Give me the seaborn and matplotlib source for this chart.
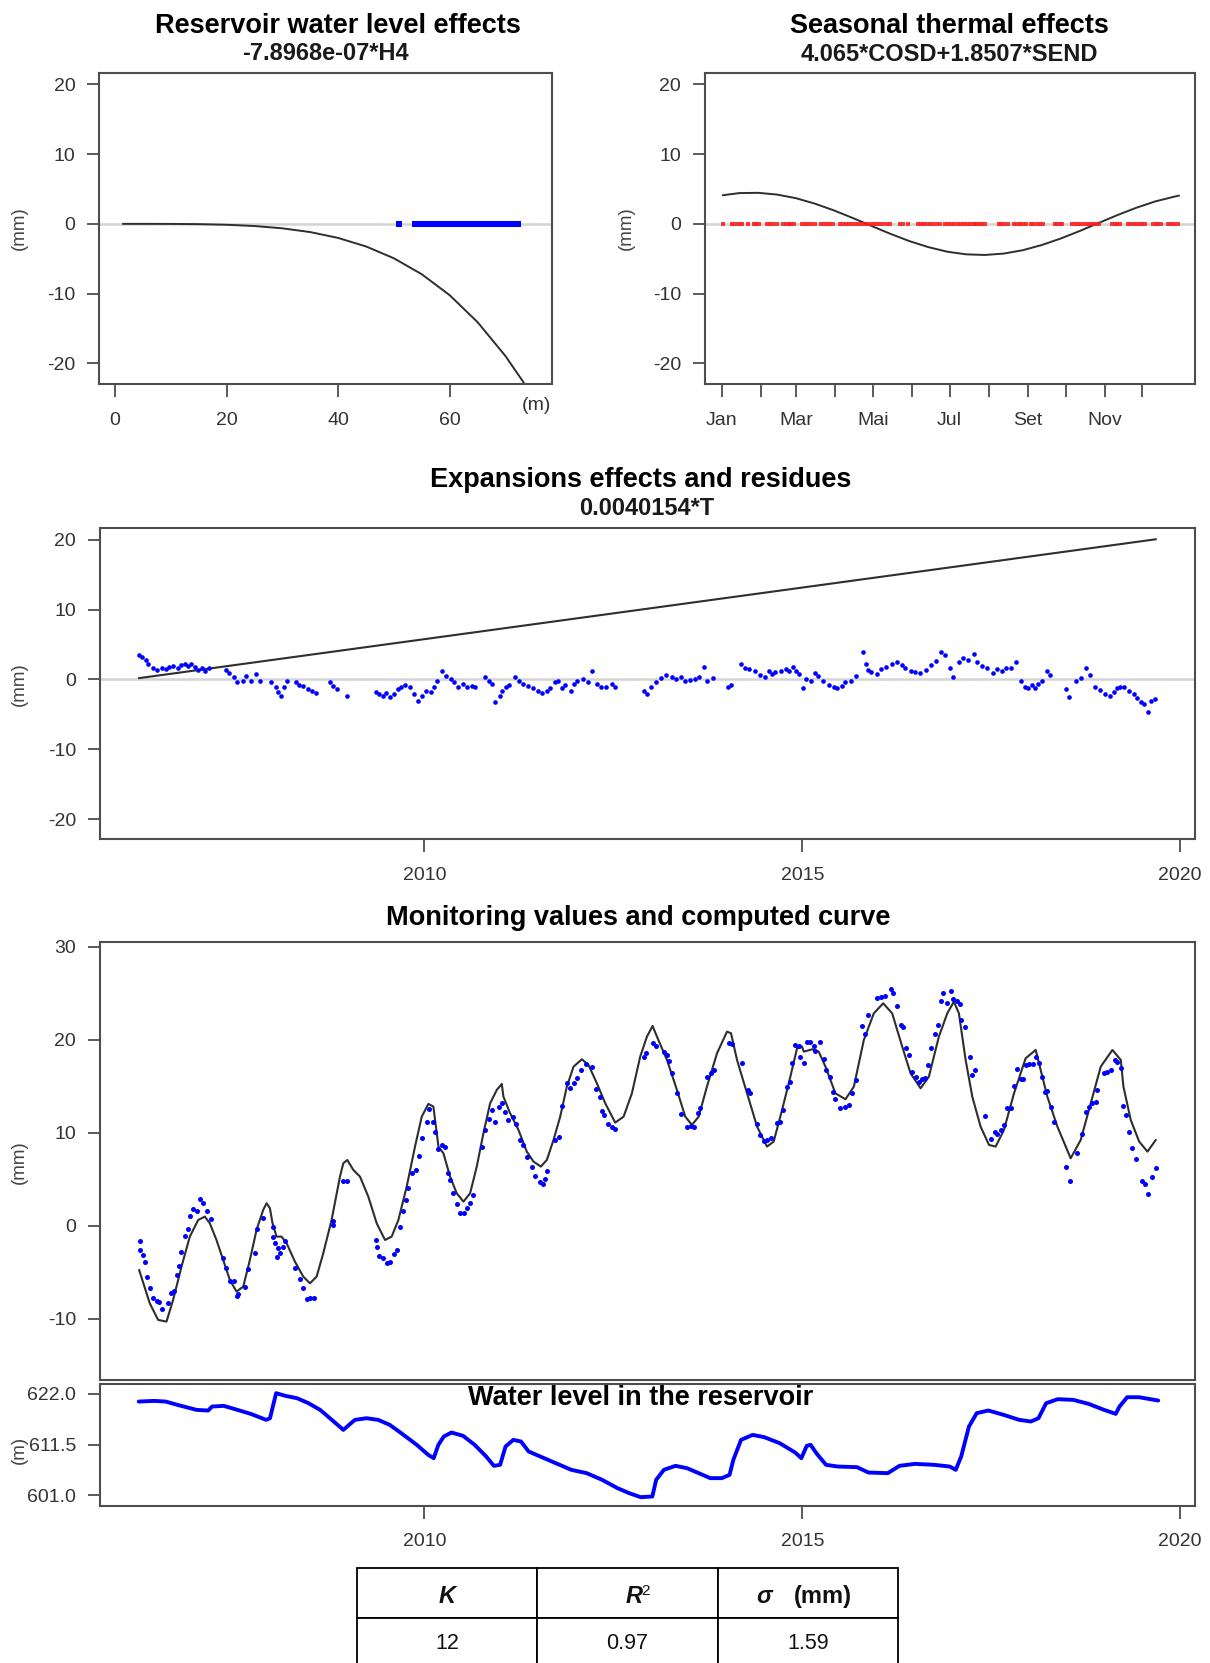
import numpy as np
import pandas as pd
import matplotlib
matplotlib.use("Agg")
import matplotlib.pyplot as plt
import seaborn as sns

sns.set_theme(style="ticks")
plt.rcParams['font.family'] = ['Liberation Sans', 'DejaVu Sans']
plt.rcParams['axes.unicode_minus'] = False

# ---------------- DATA ----------------
# Panel 1: reservoir water level effect curve (H in m, effect in mm)
h_curve = [1.4, 5, 10, 15, 20, 25, 30, 35, 40, 45, 50, 55, 60, 65, 70, 73.3]
h_effect = [0.0, 0.0, -0.01, -0.04, -0.13, -0.31, -0.64, -1.18, -2.02, -3.24,
            -4.94, -7.23, -10.23, -14.1, -18.96, -22.8]
h_obs = [50.9, 53.7, 54.1, 54.5, 54.9, 55.3, 55.7, 56.1, 56.5, 56.9, 57.3, 57.7,
         58.1, 58.5, 58.9, 59.3, 59.7, 60.1, 60.5, 60.9, 61.3, 61.7, 62.1, 62.5,
         62.9, 63.3, 63.7, 64.1, 64.5, 64.7, 65.4, 65.8, 66.2, 66.6, 67.0, 67.4,
         67.8, 68.2, 68.6, 69.0, 69.4, 69.8, 70.2, 70.6, 71.0, 71.4, 71.8, 72.2]

# Panel 2: seasonal thermal effect (day of year, mm)
season_day = [2, 15, 30, 45, 60, 75, 90, 105, 120, 135, 150, 165, 180, 195, 210,
              225, 240, 255, 270, 285, 300, 315, 330, 345, 360, 364]
season_eff = [4.10, 4.41, 4.45, 4.20, 3.68, 2.90, 1.94, 0.85, -0.30, -1.43, -2.47,
              -3.33, -3.99, -4.37, -4.46, -4.26, -3.78, -3.04, -2.11, -1.04, 0.11,
              1.25, 2.30, 3.21, 3.89, 4.05]
obs_day = [2, 9.6, 12, 14.5, 17.2, 21.8, 26.4, 28.5, 31, 37, 39.5, 42, 44.8, 49.4,
           52, 54.5, 56.5, 58.6, 64.7, 67, 69.5, 72, 75.4, 80, 82.5, 85, 87, 89.2,
           95.3, 97.5, 100, 102, 104.5, 107.5, 110, 112.5, 114.5, 116.7, 119.8, 122,
           124.5, 127, 129.5, 132, 135, 142.7, 145, 148.9, 156.5, 159, 161.5, 164,
           166.5, 168.8, 171.8, 174.5, 178, 181, 183, 185.6, 188.7, 191, 193.5, 196,
           198.5, 200.5, 202.4, 204, 206, 208, 210, 220.8, 223, 225.5, 228.5, 233,
           235.5, 238, 240, 242.2, 246.8, 248.4, 251.4, 253.5, 256, 265.2, 267.5,
           269.5, 271.3, 279, 281.5, 284, 286.5, 289, 291.5, 294.3, 295.8, 298, 300.4,
           311, 313, 315, 317.2, 323.4, 325.5, 328, 330.5, 333, 335, 337.1, 343.2,
           345.5, 347.5, 349.4, 355.5, 357.5, 360, 363]
month_days = [1, 32, 60, 91, 121, 152, 182, 213, 244, 274, 305, 335]
month_labels = ['Jan', '', 'Mar', '', 'Mai', '', 'Jul', '', 'Set', '', 'Nov', '']

# Panel 3: time effect (trend) and residuals
trend_year = [2006.22, 2019.68]
trend_mm = [0.19, 20.1]
res_year = [2006.221, 2006.257, 2006.311, 2006.348, 2006.402, 2006.465, 2006.528, 2006.583,
            2006.619, 2006.673, 2006.736, 2006.781, 2006.827, 2006.872, 2006.917, 2006.962,
            2007.007, 2007.053, 2007.098, 2007.143, 2007.369, 2007.414, 2007.486, 2007.523,
            2007.595, 2007.640, 2007.703, 2007.776, 2007.821, 2007.975, 2008.029, 2008.065,
            2008.101, 2008.137, 2008.182, 2008.300, 2008.336, 2008.390, 2008.454, 2008.517,
            2008.571, 2008.752, 2008.788, 2008.842, 2008.969, 2009.357, 2009.403, 2009.448,
            2009.493, 2009.538, 2009.601, 2009.656, 2009.692, 2009.746, 2009.809, 2009.855,
            2009.909, 2009.963, 2010.017, 2010.080, 2010.126, 2010.171, 2010.234, 2010.288,
            2010.352, 2010.397, 2010.442, 2010.505, 2010.559, 2010.623, 2010.668, 2010.803,
            2010.849, 2010.894, 2010.939, 2010.993, 2011.029, 2011.075, 2011.120, 2011.192,
            2011.255, 2011.301, 2011.373, 2011.436, 2011.499, 2011.554, 2011.617, 2011.662,
            2011.725, 2011.770, 2011.825, 2011.861, 2011.933, 2011.978, 2012.024, 2012.096,
            2012.159, 2012.222, 2012.277, 2012.340, 2012.403, 2012.476, 2012.521, 2012.909,
            2012.946, 2013.000, 2013.063, 2013.126, 2013.199, 2013.271, 2013.334, 2013.398,
            2013.452, 2013.515, 2013.578, 2013.632, 2013.696, 2013.741, 2013.813, 2014.012,
            2014.057, 2014.193, 2014.238, 2014.301, 2014.374, 2014.446, 2014.509, 2014.554,
            2014.600, 2014.645, 2014.717, 2014.780, 2014.825, 2014.871, 2014.916, 2014.961,
            2015.006, 2015.051, 2015.115, 2015.169, 2015.205, 2015.277, 2015.350, 2015.413,
            2015.458, 2015.530, 2015.566, 2015.639, 2015.711, 2015.801, 2015.837, 2015.865,
            2015.910, 2015.982, 2016.045, 2016.109, 2016.181, 2016.253, 2016.317, 2016.362,
            2016.434, 2016.497, 2016.561, 2016.633, 2016.705, 2016.768, 2016.832, 2016.886,
            2016.949, 2016.994, 2017.067, 2017.130, 2017.193, 2017.266, 2017.311, 2017.374,
            2017.446, 2017.518, 2017.582, 2017.645, 2017.699, 2017.763, 2017.826, 2017.898,
            2017.943, 2017.989, 2018.034, 2018.079, 2018.124, 2018.170, 2018.242, 2018.278,
            2018.486, 2018.531, 2018.622, 2018.694, 2018.757, 2018.802, 2018.875, 2018.938,
            2019.001, 2019.074, 2019.119, 2019.164, 2019.209, 2019.254, 2019.327, 2019.390,
            2019.435, 2019.480, 2019.525, 2019.571, 2019.616, 2019.661]
res_mm = [3.53, 3.25, 2.77, 2.20, 1.63, 1.34, 1.63, 1.48, 1.82, 1.96, 1.63, 2.10, 2.29, 1.96,
          2.20, 1.82, 1.34, 1.63, 1.15, 1.63, 1.34, 0.86, 0.29, -0.42, -0.19, 0.53, -0.19,
          0.77, -0.19, -0.42, -1.04, -1.86, -2.33, -1.14, -0.19, -0.42, -0.76, -0.90, -1.38,
          -1.71, -2.00, -0.42, -0.90, -1.38, -2.33, -1.86, -2.09, -2.33, -2.00, -2.57, -2.09,
          -1.38, -1.04, -0.76, -1.04, -2.09, -3.14, -2.33, -1.62, -1.86, -1.14, -0.19, 1.15,
          0.53, 0.05, -0.42, -1.04, -0.66, -1.14, -0.90, -1.14, 0.29, -0.19, -0.66, -3.29,
          -2.33, -1.62, -1.04, -0.76, 0.29, -0.19, -0.66, -0.90, -1.24, -1.62, -2.00, -1.71,
          -1.24, -0.42, -0.19, -1.24, -0.76, -1.62, -0.66, -0.19, 0.05, -0.42, 1.15, -0.66,
          -1.04, -1.14, -0.66, -1.04, -1.62, -2.09, -1.14, -0.42, 0.20, 0.67, 0.29, 0.05,
          0.29, -0.28, -0.09, 0.05, 0.29, 1.82, -0.19, 0.20, -1.14, -0.76, 2.20, 1.63, 1.48,
          1.15, 0.67, 0.29, 1.24, 0.77, 1.01, 1.24, 1.48, 1.15, 1.82, 1.15, 0.77, -1.24,
          0.05, -0.19, 0.86, 0.53, -0.19, -0.76, -1.04, -1.24, -0.90, -0.42, -0.19, 0.53,
          3.87, 2.20, 1.34, 1.01, 0.77, 1.48, 1.82, 2.29, 2.44, 2.10, 1.63, 1.24, 1.01, 0.86,
          1.34, 2.10, 2.68, 3.87, 3.53, 1.63, 0.39, 2.44, 3.06, 2.77, 3.72, 2.44, 1.96, 1.63,
          0.86, 1.48, 1.24, 1.63, 1.63, 2.44, -0.19, -1.04, -1.24, -0.76, -1.24, -0.66,
          -0.19, 1.24, 0.67, -1.38, -2.47, -0.19, 0.20, 1.63, 0.67, -1.04, -1.52, -2.09,
          -2.33, -1.86, -1.24, -1.04, -1.14, -1.71, -2.09, -2.67, -3.29, -3.52, -4.72,
          -3.14, -2.81]

# Panel 4: monitoring values and computed curve
obs_year = [2006.233, 2006.242, 2006.277, 2006.299, 2006.330, 2006.365, 2006.410, 2006.462,
            2006.489, 2006.529, 2006.600, 2006.652, 2006.688, 2006.719, 2006.754, 2006.785,
            2006.829, 2006.873, 2006.904, 2006.939, 2006.992, 2007.028, 2007.072, 2007.125,
            2007.169, 2007.337, 2007.372, 2007.425, 2007.478, 2007.513, 2007.535, 2007.624,
            2007.659, 2007.756, 2007.787, 2007.858, 2007.990, 2007.999, 2008.021, 2008.043,
            2008.065, 2008.087, 2008.122, 2008.153, 2008.286, 2008.352, 2008.387, 2008.440,
            2008.485, 2008.538, 2008.785, 2008.794, 2008.926, 2008.970, 2009.359, 2009.377,
            2009.403, 2009.456, 2009.500, 2009.544, 2009.597, 2009.633, 2009.677, 2009.721,
            2009.756, 2009.787, 2009.831, 2009.888, 2009.932, 2009.964, 2010.030, 2010.065,
            2010.118, 2010.140, 2010.185, 2010.229, 2010.273, 2010.317, 2010.339, 2010.383,
            2010.427, 2010.471, 2010.524, 2010.559, 2010.604, 2010.648, 2010.758, 2010.803,
            2010.860, 2010.891, 2010.935, 2010.992, 2011.023, 2011.067, 2011.112, 2011.178,
            2011.213, 2011.266, 2011.310, 2011.354, 2011.420, 2011.465, 2011.531, 2011.566,
            2011.597, 2011.628, 2011.730, 2011.774, 2011.818, 2011.884, 2011.928, 2011.973,
            2012.025, 2012.069, 2012.136, 2012.215, 2012.273, 2012.317, 2012.348, 2012.379,
            2012.423, 2012.480, 2012.524, 2012.900, 2012.935, 2013.023, 2013.067, 2013.164,
            2013.209, 2013.240, 2013.275, 2013.341, 2013.398, 2013.473, 2013.527, 2013.562,
            2013.615, 2013.650, 2013.738, 2013.791, 2013.827, 2014.025, 2014.069, 2014.202,
            2014.281, 2014.312, 2014.400, 2014.436, 2014.488, 2014.533, 2014.586, 2014.665,
            2014.710, 2014.745, 2014.798, 2014.833, 2014.864, 2014.908, 2014.953, 2014.975,
            2015.019, 2015.063, 2015.107, 2015.151, 2015.173, 2015.230, 2015.284, 2015.319,
            2015.363, 2015.407, 2015.438, 2015.505, 2015.571, 2015.615, 2015.659, 2015.704,
            2015.792, 2015.823, 2015.867, 2015.991, 2016.035, 2016.088, 2016.167, 2016.203,
            2016.247, 2016.300, 2016.335, 2016.366, 2016.410, 2016.454, 2016.499, 2016.543,
            2016.587, 2016.618, 2016.662, 2016.706, 2016.750, 2016.794, 2016.838, 2016.865,
            2016.909, 2016.962, 2016.997, 2017.042, 2017.086, 2017.103, 2017.147, 2017.218,
            2017.249, 2017.284, 2017.412, 2017.501, 2017.545, 2017.580, 2017.633, 2017.668,
            2017.713, 2017.757, 2017.801, 2017.845, 2017.889, 2017.924, 2017.955, 2017.999,
            2018.057, 2018.088, 2018.132, 2018.176, 2018.207, 2018.242, 2018.286, 2018.330,
            2018.494, 2018.543, 2018.640, 2018.706, 2018.750, 2018.794, 2018.838, 2018.882,
            2018.905, 2018.993, 2019.037, 2019.081, 2019.134, 2019.161, 2019.214, 2019.249,
            2019.280, 2019.324, 2019.368, 2019.412, 2019.501, 2019.532, 2019.576, 2019.633,
            2019.677]
obs_mm = [-1.61, -2.61, -3.15, -3.87, -5.48, -6.73, -7.81, -8.06, -8.17, -8.99, -8.27, -7.27,
          -7.02, -5.30, -4.33, -2.79, -1.11, -0.39, 1.04, 1.76, 1.61, 2.83, 2.41, 1.61, 0.68,
          -3.44, -4.58, -5.91, -5.91, -7.56, -7.38, -6.63, -4.69, -2.90, -0.39, 0.79, -0.11,
          -1.18, -1.90, -3.33, -2.36, -2.97, -2.25, -1.65, -4.58, -5.77, -6.66, -7.92, -7.81,
          -7.74, 0.07, 0.50, 4.84, 4.84, -1.54, -2.25, -3.26, -3.51, -3.97, -3.87, -3.04,
          -2.61, -0.11, 1.58, 2.76, 4.02, 5.63, 5.99, 7.50, 9.39, 11.11, 12.55, 11.19, 10.11,
          8.21, 8.68, 8.50, 5.63, 4.91, 3.48, 2.33, 1.40, 1.40, 1.87, 2.48, 3.30, 8.43, 10.29,
          11.44, 12.44, 11.11, 12.80, 13.16, 12.19, 11.37, 11.72, 10.94, 9.22, 8.68, 7.42,
          6.35, 5.35, 4.73, 4.45, 4.99, 5.88, 9.22, 9.57, 12.91, 15.31, 14.77, 15.38, 15.85,
          16.74, 17.35, 17.10, 14.66, 13.87, 12.37, 11.90, 10.90, 10.65, 10.36, 18.18, 18.61,
          19.61, 19.32, 18.71, 18.36, 17.75, 16.38, 14.23, 12.01, 10.65, 10.72, 10.65, 12.08,
          12.62, 15.95, 16.38, 16.74, 19.61, 19.54, 17.53, 14.59, 14.23, 10.90, 9.75, 9.11,
          9.22, 9.47, 11.01, 11.19, 12.44, 14.95, 15.49, 17.53, 19.43, 19.32, 18.18, 17.53,
          19.79, 19.79, 19.32, 18.82, 19.79, 17.89, 16.74, 16.03, 14.41, 13.59, 12.62, 12.80,
          12.98, 14.30, 15.67, 21.47, 20.61, 22.66, 24.45, 24.63, 24.70, 25.42, 24.99, 23.62,
          21.58, 21.40, 19.07, 18.36, 16.56, 16.03, 15.49, 15.74, 15.85, 17.28, 19.07, 20.61,
          21.58, 24.20, 25.06, 23.91, 25.27, 24.34, 24.20, 23.84, 22.12, 21.33, 18.18, 16.21,
          16.74, 11.80, 9.29, 10.11, 9.86, 10.29, 10.83, 12.62, 12.62, 15.02, 16.81, 15.74,
          15.74, 17.28, 17.39, 17.39, 18.18, 17.46, 16.03, 14.41, 14.52, 12.80, 11.19, 6.35,
          4.81, 7.78, 9.86, 12.26, 12.80, 13.16, 13.34, 14.59, 16.46, 16.53, 16.74, 17.82,
          17.64, 16.92, 12.87, 11.90, 10.11, 8.32, 7.13, 4.84, 4.49, 3.41, 5.27, 6.24]
calc_year = [2006.224, 2006.365, 2006.476, 2006.586, 2006.674, 2006.785, 2006.895, 2007.006,
             2007.094, 2007.160, 2007.248, 2007.337, 2007.425, 2007.513, 2007.602, 2007.690,
             2007.778, 2007.866, 2007.911, 2007.955, 2007.990, 2008.043, 2008.109, 2008.176,
             2008.286, 2008.396, 2008.485, 2008.573, 2008.661, 2008.771, 2008.882, 2008.926,
             2008.979, 2009.059, 2009.147, 2009.257, 2009.368, 2009.478, 2009.566, 2009.655,
             2009.765, 2009.875, 2009.964, 2010.052, 2010.118, 2010.185, 2010.251, 2010.339,
             2010.427, 2010.516, 2010.604, 2010.692, 2010.780, 2010.869, 2010.957, 2011.023,
             2011.045, 2011.134, 2011.244, 2011.354, 2011.443, 2011.540, 2011.619, 2011.708,
             2011.796, 2011.884, 2011.973, 2012.083, 2012.171, 2012.281, 2012.392, 2012.524,
             2012.635, 2012.745, 2012.855, 2012.944, 2013.019, 2013.076, 2013.209, 2013.341,
             2013.451, 2013.540, 2013.628, 2013.738, 2013.871, 2014.003, 2014.056, 2014.136,
             2014.268, 2014.401, 2014.533, 2014.621, 2014.732, 2014.842, 2014.930, 2014.997,
             2015.019, 2015.129, 2015.217, 2015.306, 2015.438, 2015.571, 2015.682, 2015.814,
             2015.946, 2016.070, 2016.189, 2016.322, 2016.432, 2016.565, 2016.675, 2016.807,
             2016.918, 2017.006, 2017.072, 2017.161, 2017.249, 2017.359, 2017.470, 2017.558,
             2017.668, 2017.801, 2017.955, 2018.088, 2018.154, 2018.242, 2018.375, 2018.551,
             2018.684, 2018.816, 2018.949, 2019.103, 2019.214, 2019.249, 2019.346, 2019.457,
             2019.567, 2019.677]
calc_mm = [-4.76, -8.35, -10.14, -10.32, -7.99, -4.41, -1.18, 0.61, 0.97, 0.25, -1.54, -3.69,
           -5.84, -7.09, -6.56, -3.69, -0.46, 1.69, 2.41, 1.87, 0.25, -1.18, -1.18, -1.90,
           -3.87, -5.48, -6.20, -5.48, -2.97, 0.61, 5.27, 6.71, 7.06, 5.99, 5.27, 3.12, 0.25,
           -1.54, -1.18, 0.61, 4.20, 8.50, 11.72, 13.09, 12.80, 8.50, 7.78, 5.27, 3.48, 2.58,
           3.48, 6.35, 9.93, 13.16, 14.59, 15.24, 13.87, 12.08, 10.29, 7.96, 6.89, 6.35, 7.06,
           9.22, 11.72, 14.95, 17.10, 17.89, 17.28, 15.31, 13.16, 11.08, 11.72, 14.23, 18.18,
           20.33, 21.47, 20.33, 17.82, 14.59, 11.72, 10.83, 11.72, 14.95, 18.53, 20.86, 20.69,
           17.82, 14.23, 10.65, 8.50, 9.04, 12.44, 16.03, 19.07, 19.25, 18.71, 18.96, 18.71,
           17.10, 14.23, 13.59, 14.95, 19.97, 22.83, 23.91, 22.83, 19.25, 16.38, 14.77, 16.03,
           20.33, 22.83, 24.09, 22.83, 17.82, 13.87, 10.65, 8.68, 8.50, 10.29, 14.23, 18.00,
           18.89, 16.74, 13.87, 10.65, 7.24, 9.22, 13.16, 17.10, 18.89, 17.82, 14.95, 11.36,
           9.04, 7.96, 9.22]

# Panel 5: water level in the reservoir (m)
wl_year = [2006.219, 2006.423, 2006.576, 2006.730, 2006.985, 2007.138, 2007.189, 2007.343,
           2007.495, 2007.701, 2007.905, 2007.956, 2008.037, 2008.160, 2008.314, 2008.466,
           2008.620, 2008.774, 2008.927, 2008.977, 2009.079, 2009.233, 2009.387, 2009.540,
           2009.693, 2009.898, 2010.050, 2010.122, 2010.184, 2010.256, 2010.358, 2010.511,
           2010.664, 2010.817, 2010.919, 2011.001, 2011.073, 2011.175, 2011.277, 2011.379,
           2011.532, 2011.738, 2011.942, 2012.146, 2012.351, 2012.555, 2012.709, 2012.861,
           2013.015, 2013.066, 2013.168, 2013.322, 2013.474, 2013.628, 2013.781, 2013.935,
           2014.037, 2014.087, 2014.189, 2014.343, 2014.497, 2014.701, 2014.906, 2014.987,
           2015.058, 2015.110, 2015.192, 2015.314, 2015.468, 2015.723, 2015.875, 2016.131,
           2016.285, 2016.490, 2016.744, 2016.950, 2017.030, 2017.102, 2017.205, 2017.307,
           2017.461, 2017.665, 2017.869, 2018.023, 2018.125, 2018.226, 2018.380, 2018.584,
           2018.789, 2018.993, 2019.147, 2019.197, 2019.299, 2019.453, 2019.607, 2019.709]
wl_m = [620.37, 620.51, 620.37, 619.69, 618.65, 618.52, 619.34, 619.48, 618.79, 617.83,
        616.59, 616.93, 622.10, 621.55, 621.06, 620.03, 618.65, 616.59, 614.52, 615.21,
        616.59, 616.93, 616.59, 615.56, 613.84, 611.43, 609.36, 608.67, 611.43, 613.15,
        613.97, 613.29, 611.43, 609.02, 607.09, 607.30, 611.08, 612.46, 612.12, 610.05,
        609.02, 607.64, 606.27, 605.58, 604.20, 602.48, 601.45, 600.62, 600.76, 604.20,
        606.27, 607.09, 606.61, 605.58, 604.55, 604.55, 605.23, 608.33, 612.46, 613.49,
        613.01, 611.77, 609.84, 608.67, 611.22, 611.43, 609.57, 607.30, 606.95, 606.82,
        605.71, 605.58, 607.09, 607.50, 607.30, 606.95, 606.27, 609.02, 615.21, 617.97,
        618.52, 617.62, 616.59, 616.25, 616.93, 620.03, 620.86, 620.72, 619.89, 618.65,
        617.83, 619.34, 621.27, 621.27, 620.86, 620.58]

table_row = ['12', '0.97', '1.59']

# ---------------- FIGURE ----------------
W, H = 1210, 1663
fig = plt.figure(figsize=(W / 100, H / 100), dpi=100)

FRAME = '#4d4d4d'
TXT = '#333333'
CURVE = '#2e2e2e'


def add_ax(l, t, r, b):
    return fig.add_axes([l / W, 1 - b / H, (r - l) / W, (b - t) / H])


def style(ax):
    for s in ax.spines.values():
        s.set_visible(True)
        s.set_color(FRAME)
        s.set_linewidth(1.5)
    ax.tick_params(axis='both', direction='out', length=9, width=1.3, color=FRAME,
                   labelsize=14, labelcolor=TXT)
    ax.tick_params(axis='y', pad=8, left=True)
    ax.tick_params(axis='x', pad=11, bottom=True)
    ax.set_xlabel('')
    ax.set_ylabel('')


def ftext(x, y, s, **kw):
    kw.setdefault('ha', 'center')
    kw.setdefault('va', 'baseline')
    return fig.text(x / W, 1 - y / H, s, **kw)


# Panel 1
ax1 = add_ax(99.2, 72.7, 551.8, 384)
style(ax1)
ax1.axhline(0, color='#d4d4d4', lw=1.8, zorder=0)
sns.lineplot(x=h_curve, y=h_effect, ax=ax1, color=CURVE, linewidth=1.4,
             estimator=None, sort=False, legend=False)
sns.scatterplot(x=h_obs, y=np.zeros(len(h_obs)), ax=ax1, color='blue', marker='s',
                s=14, linewidth=0, legend=False, zorder=3)
ax1.set_xlim(-2.83, 78.3)
ax1.set_ylim(-22.96, 21.67)
ax1.set_xticks([0, 20, 40, 60])
ax1.set_yticks([-20, -10, 0, 10, 20])
ax1.set_xlabel('')
ax1.set_ylabel('')

# Panel 2
ax2 = add_ax(704.5, 72.7, 1195.3, 384)
style(ax2)
ax2.axhline(0, color='#d4d4d4', lw=1.8, zorder=0)
sns.lineplot(x=season_day, y=season_eff, ax=ax2, color=CURVE, linewidth=1.4,
             estimator=None, sort=False, legend=False)
sns.scatterplot(x=obs_day, y=np.zeros(len(obs_day)), ax=ax2, color='#ff1a1a', marker='s',
                s=10, linewidth=0, alpha=0.85, legend=False, zorder=3)
ax2.set_xlim(-12.5, 376.9)
ax2.set_ylim(-22.96, 21.67)
ax2.set_xticks(month_days)
ax2.set_xticklabels(month_labels)
ax2.set_yticks([-20, -10, 0, 10, 20])
ax2.set_xlabel('')
ax2.set_ylabel('')

# Panel 3
ax3 = add_ax(99.5, 528.3, 1195.3, 839)
style(ax3)
ax3.axhline(0, color='#d4d4d4', lw=1.8, zorder=0)
sns.lineplot(x=trend_year, y=trend_mm, ax=ax3, color=CURVE, linewidth=1.5,
             estimator=None, sort=False, legend=False)
sns.scatterplot(x=res_year, y=res_mm, ax=ax3, color='blue', s=11, linewidth=0,
                legend=False, zorder=3)
ax3.set_xlim(2005.70, 2020.20)
ax3.set_ylim(-22.86, 21.67)
ax3.set_xticks([2010, 2015, 2020])
ax3.set_yticks([-20, -10, 0, 10, 20])
ax3.set_xlabel('')
ax3.set_ylabel('')

# Panel 4
ax4 = add_ax(99.5, 942.3, 1195.3, 1380)
style(ax4)
sns.lineplot(x=calc_year, y=calc_mm, ax=ax4, color=CURVE, linewidth=1.5,
             estimator=None, sort=False, legend=False)
sns.scatterplot(x=obs_year, y=obs_mm, ax=ax4, color='blue', s=13, linewidth=0,
                legend=False, zorder=3)
ax4.set_xlim(2005.70, 2020.20)
ax4.set_ylim(-16.6, 30.47)
ax4.set_yticks([-10, 0, 10, 20, 30])
ax4.set_xticks([])
ax4.tick_params(axis='x', bottom=False, labelbottom=False)
ax4.set_xlabel('')
ax4.set_ylabel('')

# Panel 5
ax5 = add_ax(99.5, 1383.5, 1195.3, 1505.5)
style(ax5)
sns.lineplot(x=wl_year, y=wl_m, ax=ax5, color='blue', linewidth=2.8,
             estimator=None, sort=False, legend=False)
ax5.set_xlim(2005.70, 2020.20)
ax5.set_ylim(598.9, 624.1)
ax5.set_yticks([601.0, 611.5, 622.0])
ax5.set_yticklabels(['601.0', '611.5', '622.0'])
ax5.set_xticks([2010, 2015, 2020])
ax5.set_xlabel('')
ax5.set_ylabel('')

# Titles
TB = dict(fontsize=19.5, fontweight='bold', color='black')
TS = dict(fontsize=17, fontweight='bold', color='#1a1a1a')
ftext(338, 33.3, 'Reservoir water level effects', **TB)
ftext(325, 60, '-7.8968e-07*H4', **TS)
ftext(949.5, 33.3, 'Seasonal thermal effects', **TB)
ftext(949.5, 60.7, '4.065*COSD+1.8507*SEND', **TS)
ftext(640.5, 486.7, 'Expansions effects and residues', **TB)
ftext(646.5, 515, '0.0040154*T', **TS)
ftext(638, 925, 'Monitoring values and computed curve', **TB)
ftext(640.5, 1405, 'Water level in the reservoir', **TB)

# Axis unit labels
UL = dict(fontsize=13.5, color='#444444', rotation=90, va='center')
ftext(19, 228, '(mm)', **UL)
ftext(626, 228, '(mm)', **UL)
ftext(19, 683.7, '(mm)', **UL)
ftext(19, 1161.7, '(mm)', **UL)
ftext(19, 1450, '(m)', **UL)
ftext(536.7, 405, '(m)', fontsize=14, color=TXT, va='center')

# Table (grid + data row through matplotlib's table, header drawn as text)
axt = add_ax(356.6, 1568.3, 898, 1668.3)
axt.set_axis_off()
tab = axt.table(cellText=[['', '', ''], table_row], bbox=[0, 0, 1, 1], cellLoc='center')
tab.auto_set_font_size(False)
tab.set_fontsize(15.5)
for (r, c), cell in tab.get_celld().items():
    cell.set_edgecolor('black')
    cell.set_linewidth(1.3)
    cell.set_facecolor('white')
    cell.get_text().set_color('#111111')
HD = dict(fontsize=17, fontweight='bold', color='#111111')
ftext(447, 1603.3, 'K', fontstyle='italic', **HD)
ftext(634, 1603.3, 'R', fontstyle='italic', **HD)
ftext(645, 1595, '2', fontsize=11, color='#111111')
ftext(764, 1603.3, 'σ', fontstyle='italic', **HD)
ftext(822.5, 1603.3, '(mm)', **HD)

fig.savefig('out.png', dpi=100, facecolor='white')
